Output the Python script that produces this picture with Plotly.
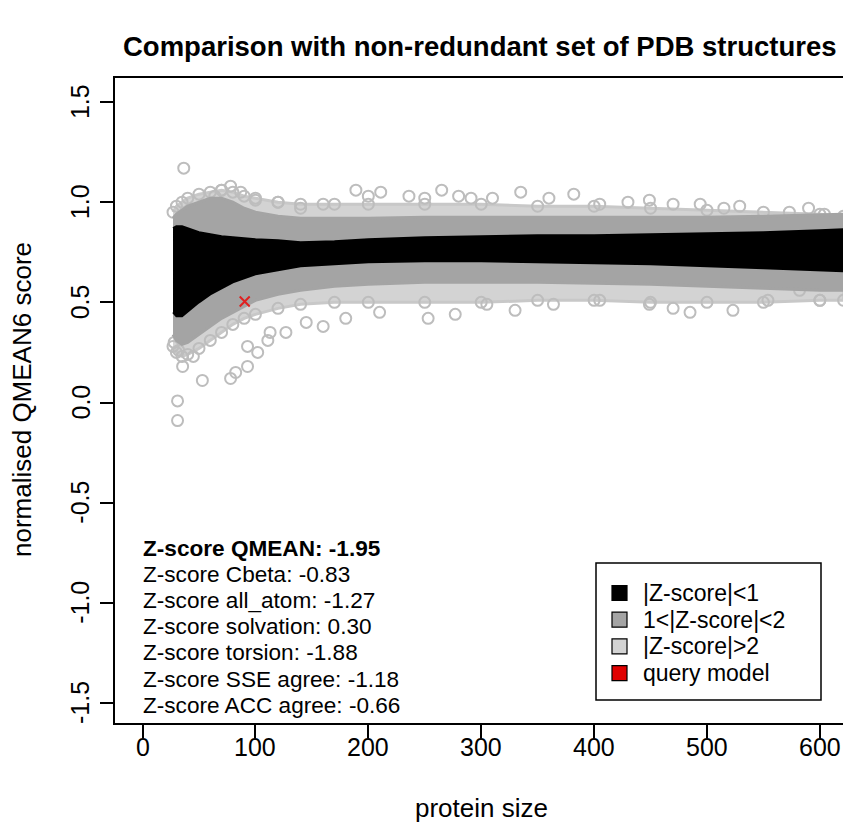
import plotly.graph_objects as go

# ---------------- data ----------------
band_x = [27, 30, 35, 40, 50, 60, 70, 80, 90, 100, 120, 140, 170, 200, 250, 300, 350, 400, 450, 500, 550, 600, 621]
black_lo = [0.45, 0.43, 0.43, 0.45, 0.50, 0.54, 0.57, 0.60, 0.62, 0.64, 0.66, 0.68, 0.69, 0.70, 0.705, 0.705, 0.70, 0.695, 0.69, 0.68, 0.67, 0.66, 0.655]
black_hi = [0.87, 0.88, 0.88, 0.87, 0.85, 0.84, 0.83, 0.825, 0.82, 0.815, 0.81, 0.80, 0.805, 0.815, 0.825, 0.83, 0.835, 0.835, 0.84, 0.845, 0.85, 0.86, 0.865]
mid_lo = [0.34, 0.31, 0.29, 0.30, 0.34, 0.38, 0.42, 0.45, 0.48, 0.51, 0.54, 0.56, 0.58, 0.59, 0.60, 0.60, 0.60, 0.595, 0.59, 0.58, 0.57, 0.56, 0.56]
mid_hi = [0.92, 0.94, 0.96, 0.98, 1.00, 1.02, 1.02, 1.00, 0.97, 0.95, 0.93, 0.92, 0.92, 0.92, 0.925, 0.925, 0.925, 0.925, 0.925, 0.925, 0.93, 0.935, 0.94]
light_lo = [0.28, 0.25, 0.23, 0.24, 0.27, 0.31, 0.35, 0.39, 0.42, 0.44, 0.47, 0.49, 0.50, 0.50, 0.50, 0.50, 0.51, 0.51, 0.50, 0.50, 0.50, 0.51, 0.51]
light_hi = [0.95, 0.98, 1.00, 1.02, 1.04, 1.05, 1.06, 1.05, 1.03, 1.02, 1.00, 0.99, 0.99, 0.99, 0.99, 0.99, 0.98, 0.98, 0.97, 0.96, 0.95, 0.94, 0.93]

outlier_x = [36.5, 64, 70, 78, 87, 100, 120, 140, 160, 189, 200, 211, 236, 250, 265, 280, 291, 310, 335, 360,
             382, 405, 430, 449, 470, 494, 515, 529, 573, 590, 604,
             31, 31, 28, 32, 35.5, 45, 53, 78, 82.5, 93, 93, 102, 111, 113, 127, 145, 160, 180, 210,
             253, 277, 305, 330, 364, 405, 449, 470, 485, 523, 554, 582, 600]
outlier_y = [1.17, 1.03, 1.06, 1.08, 1.05, 1.01, 1.00, 0.97, 0.99, 1.06, 1.03, 1.05, 1.03, 1.02, 1.06, 1.03, 1.02, 1.02, 1.05, 1.02,
             1.04, 0.99, 1.00, 1.01, 0.99, 0.99, 0.97, 0.98, 0.95, 0.97, 0.94,
             0.008, -0.09, 0.30, 0.26, 0.18, 0.23, 0.11, 0.12, 0.15, 0.18, 0.28, 0.25, 0.31, 0.35, 0.35, 0.40, 0.38, 0.42, 0.45,
             0.42, 0.44, 0.49, 0.46, 0.49, 0.51, 0.49, 0.47, 0.45, 0.46, 0.51, 0.56, 0.51]

query_x = [90.5]
query_y = [0.504]

zscore_lines = ["Z-score QMEAN: -1.95", "Z-score Cbeta: -0.83", "Z-score all_atom: -1.27",
                "Z-score solvation: 0.30", "Z-score torsion: -1.88", "Z-score SSE agree: -1.18",
                "Z-score ACC agree: -0.66"]
legend_labels = ["|Z-score|<1", "1<|Z-score|<2", "|Z-score|>2", "query model"]
legend_colors = ["#000000", "#a4a4a4", "#d3d3d3", "#e00000"]

x_ticks = [0, 100, 200, 300, 400, 500, 600]
y_ticks = [-1.5, -1.0, -0.5, 0.0, 0.5, 1.0, 1.5]

# ---------------- layout geometry ----------------
W, H = 843, 836
L, R, T, B = 115, 843, 78, 723
FONT = "Liberation Sans, Arial, Helvetica, sans-serif"
FS_TXT = 22.6   # z-score block
FS_AX = 26      # axis titles
FS_TICK = 25    # tick labels
FS_LEG = 23     # legend


def px(xp):
    return (xp - L) / (R - L)


def py(yp):
    return (B - yp) / (B - T)


def band(lo, hi):
    return band_x + band_x[::-1], hi + lo[::-1]


fig = go.Figure()

bx, by = band(light_lo, light_hi)
fig.add_trace(go.Scatter(x=bx, y=by, fill="toself", fillcolor="#d3d3d3", mode="lines",
                         line=dict(color="#c8c8c8", width=3), hoverinfo="skip", showlegend=False))
fig.add_trace(go.Scatter(x=band_x + band_x, y=light_hi + light_lo, mode="markers",
                         marker=dict(symbol="circle-open", size=11, color="#bdbdbd", line=dict(width=2)),
                         hoverinfo="skip", showlegend=False))
fig.add_trace(go.Scatter(x=outlier_x, y=outlier_y, mode="markers",
                         marker=dict(symbol="circle-open", size=11, color="#bdbdbd", line=dict(width=2)),
                         hoverinfo="skip", showlegend=False))
bx, by = band(mid_lo, mid_hi)
fig.add_trace(go.Scatter(x=bx, y=by, fill="toself", fillcolor="#a4a4a4", mode="lines",
                         line=dict(color="#a4a4a4", width=3), hoverinfo="skip", showlegend=False))
bx, by = band(black_lo, black_hi)
fig.add_trace(go.Scatter(x=bx, y=by, fill="toself", fillcolor="#000000", mode="lines",
                         line=dict(color="#000000", width=2), hoverinfo="skip", showlegend=False))
fig.add_trace(go.Scatter(x=query_x, y=query_y, mode="markers",
                         marker=dict(symbol="x-thin-open", size=10, color="#e02020", line=dict(width=2, color="#e02020")),
                         hoverinfo="skip", showlegend=False))

annotations = []
annotations.append(dict(text="<b>Comparison with non-redundant set of PDB structures</b>",
                        x=px(480), y=py(47), xref="paper", yref="paper", showarrow=False,
                        xanchor="center", yanchor="middle", font=dict(size=27.5, color="black", family=FONT)))
annotations.append(dict(text="protein size", x=px(481), y=py(808), xref="paper", yref="paper",
                        showarrow=False, xanchor="center", yanchor="middle",
                        font=dict(size=FS_AX, color="black", family=FONT)))
annotations.append(dict(text="normalised QMEAN6 score", x=px(22), y=py(400), xref="paper", yref="paper",
                        showarrow=False, xanchor="center", yanchor="middle", textangle=-90,
                        font=dict(size=FS_AX, color="black", family=FONT)))
for v in x_ticks:
    annotations.append(dict(text=str(v), x=v, y=py(747), xref="x", yref="paper", showarrow=False,
                            xanchor="center", yanchor="middle", font=dict(size=FS_TICK, color="black", family=FONT)))
for v in y_ticks:
    annotations.append(dict(text="%.1f" % v, x=px(80), y=v, xref="paper", yref="y", showarrow=False,
                            xanchor="center", yanchor="middle", textangle=-90,
                            font=dict(size=FS_TICK, color="black", family=FONT)))
for i, t in enumerate(zscore_lines):
    txt = "<b>%s</b>" % t if i == 0 else t
    annotations.append(dict(text=txt, x=px(141), y=py(548 + i * 26.2), xref="paper", yref="paper",
                            showarrow=False, xanchor="left", yanchor="middle",
                            font=dict(size=FS_TXT, color="black", family=FONT)))

shapes = [dict(type="rect", xref="paper", yref="paper", x0=px(596), x1=px(821), y0=py(700), y1=py(563),
               line=dict(color="black", width=1.5), fillcolor="white")]
for i, (lab, col) in enumerate(zip(legend_labels, legend_colors)):
    yc = 593 + i * 26.7
    shapes.append(dict(type="rect", xref="paper", yref="paper", x0=px(612), x1=px(627),
                       y0=py(yc + 7.5), y1=py(yc - 7.5), line=dict(color="black", width=1.2), fillcolor=col))
    annotations.append(dict(text=lab, x=px(641), y=py(yc), xref="paper", yref="paper", showarrow=False,
                            xanchor="left", yanchor="middle", font=dict(size=FS_LEG, color="black", family=FONT)))

fig.update_layout(
    width=W, height=H, margin=dict(l=L, r=W - R, t=T, b=H - B),
    paper_bgcolor="white", plot_bgcolor="white", showlegend=False,
    annotations=annotations, shapes=shapes,
    font=dict(family=FONT, size=FS_AX, color="black"),
)
fig.update_xaxes(range=[-24.4, 620.5], tickvals=x_ticks, showticklabels=False,
                 showgrid=False, zeroline=False, showline=True, mirror=True, linecolor="black", linewidth=1.5,
                 ticks="outside", ticklen=13, tickwidth=1.5, tickcolor="black")
fig.update_yaxes(range=[-1.60, 1.62], tickvals=y_ticks, showticklabels=False,
                 showgrid=False, zeroline=False, showline=True, mirror=False, linecolor="black", linewidth=1.5,
                 ticks="outside", ticklen=13, tickwidth=1.5, tickcolor="black")

fig.write_html("out.html", config={"displayModeBar": False},
               post_script="document.body.style.margin='0';")
